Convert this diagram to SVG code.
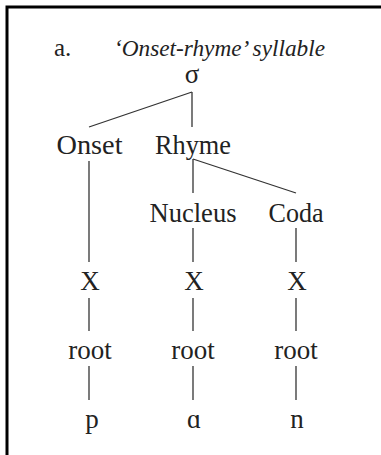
<svg xmlns="http://www.w3.org/2000/svg" width="381" height="455" viewBox="0 0 381 455">
<style>
text{font-family:"Liberation Serif","DejaVu Serif",serif;fill:#222;text-anchor:middle}
.n{font-size:27px}
.t{font-size:23px;font-style:italic;text-anchor:start}
.l{font-size:25px;text-anchor:start}
line{stroke:#333;stroke-width:1.3}
</style>
<rect width="381" height="455" fill="#fff"/>
<path d="M7,455 V7 H381" fill="none" stroke="#000" stroke-width="3"/>
<g id="title">
<text class="l" x="54" y="56">a.</text>
<text class="t" x="114" y="56" textLength="211" lengthAdjust="spacingAndGlyphs">‘Onset-rhyme’ syllable</text>
</g>
<g id="connectors">
<line x1="192" y1="92" x2="89" y2="127"/>
<line x1="192" y1="92" x2="192" y2="127"/>
<line x1="89" y1="161" x2="89" y2="262"/>
<line x1="193" y1="159" x2="193" y2="193"/>
<line x1="193" y1="159" x2="296" y2="193"/>
<line x1="193" y1="228" x2="193" y2="262"/>
<line x1="296" y1="228" x2="296" y2="262"/>
<line x1="89" y1="298" x2="89" y2="331"/>
<line x1="193" y1="298" x2="193" y2="331"/>
<line x1="296" y1="298" x2="296" y2="331"/>
<line x1="89" y1="366" x2="89" y2="400"/>
<line x1="193" y1="366" x2="193" y2="400"/>
<line x1="296" y1="366" x2="296" y2="400"/>
</g>
<g id="sigma"><text class="n" x="192" y="83">σ</text></g>
<g id="onset"><text class="n" x="89.5" y="154" textLength="66" lengthAdjust="spacingAndGlyphs">Onset</text></g>
<g id="rhyme"><text class="n" x="193" y="154" textLength="76" lengthAdjust="spacingAndGlyphs">Rhyme</text></g>
<g id="nucleus"><text class="n" x="193" y="222" textLength="87" lengthAdjust="spacingAndGlyphs">Nucleus</text></g>
<g id="coda"><text class="n" x="296" y="222" textLength="55" lengthAdjust="spacingAndGlyphs">Coda</text></g>
<g id="x1"><text class="n" x="90" y="290">X</text></g>
<g id="x2"><text class="n" x="194" y="290">X</text></g>
<g id="x3"><text class="n" x="297" y="290">X</text></g>
<g id="root1"><text class="n" x="90" y="359">root</text></g>
<g id="root2"><text class="n" x="193" y="359">root</text></g>
<g id="root3"><text class="n" x="296" y="359">root</text></g>
<g id="p"><text class="n" x="92" y="428">p</text></g>
<g id="a"><text class="n" x="194" y="428">ɑ</text></g>
<g id="n"><text class="n" x="297" y="428">n</text></g>
</svg>
